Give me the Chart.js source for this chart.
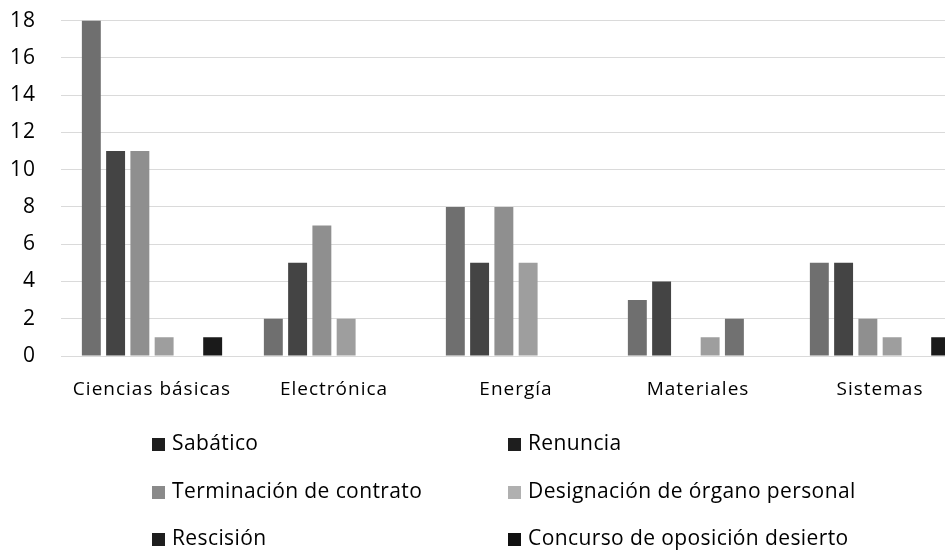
<!DOCTYPE html>
<html><head><meta charset="utf-8">
<script src="https://cdn.jsdelivr.net/npm/chart.js@4.4.0/dist/chart.umd.min.js"></script>
<style>
html,body{margin:0;padding:0;background:#fff;overflow:hidden;width:945px;height:552px}
#wrap{position:relative;width:972px;height:569px;margin-top:-17px}
</style></head>
<body><div id="wrap"><canvas id="c" width="972" height="569"></canvas></div>
<script>
const categories = ['Ciencias básicas', 'Electrónica', 'Energía', 'Materiales', 'Sistemas'];
const seriesNames = ['Sabático', 'Renuncia', 'Terminación de contrato', 'Designación de órgano personal', 'Rescisión', 'Concurso de oposición desierto'];
const sabatico    = [18, 2, 8, 3, 5];
const renuncia    = [11, 5, 5, 4, 5];
const terminacion = [11, 7, 8, 0, 2];
const designacion = [1, 2, 5, 1, 1];
const rescision   = [0, 0, 0, 2, 0];
const concurso    = [1, 0, 0, 0, 1];
const yTicks = [0, 2, 4, 6, 8, 10, 12, 14, 16, 18];

const barColors = ['#6f6f6f', '#444444', '#8f8f8f', '#9e9e9e', '#717171', '#1a1a1a'];
const legendColors = ['#1e1e1e', '#1e1e1e', '#8a8a8a', '#b0b0b0', '#1e1e1e', '#111111'];
const seriesValues = [sabatico, renuncia, terminacion, designacion, rescision, concurso];

const FONT = '"Open Sans", Lato, sans-serif';

const spacingPlugin = {
  id: 'spacing',
  beforeDraw(chart) { chart.ctx.letterSpacing = '1px'; }
};

const legendPlugin = {
  id: 'gridLegend',
  afterDraw(chart) {
    const ctx = chart.ctx;
    const colX = [152, 508];
    const rowY = [461, 509, 556];
    ctx.save();
    ctx.letterSpacing = '0.4px';
    ctx.font = '21px ' + FONT;
    ctx.textBaseline = 'middle';
    ctx.textAlign = 'left';
    chart.data.datasets.forEach((ds, i) => {
      const x = colX[i % 2];
      const y = rowY[Math.floor(i / 2)];
      ctx.fillStyle = legendColors[i];
      ctx.fillRect(x, y - 6, 13, 13);
      ctx.fillStyle = '#000';
      ctx.fillText(ds.label, x + 20, y);
    });
    ctx.restore();
  }
};

new Chart(document.getElementById('c'), {
  type: 'bar',
  data: {
    labels: categories,
    datasets: seriesValues.map((vals, i) => ({
      label: seriesNames[i],
      data: vals,
      backgroundColor: barColors[i],
      borderWidth: 0,
      barPercentage: 0.78,
      categoryPercentage: 0.8
    }))
  },
  options: {
    responsive: false,
    animation: false,
    devicePixelRatio: 1,
    layout: { padding: { top: 0, right: 1, left: 0, bottom: 0 } },
    plugins: { legend: { display: false }, tooltip: { enabled: false } },
    scales: {
      y: {
        min: 0, max: 18,
        afterBuildTicks(scale) { scale.ticks = yTicks.map(v => ({ value: v })); },
        afterFit(scale) { scale.width = 61; },
        ticks: { color: '#000', font: { size: 21, family: FONT }, padding: 25 },
        grid: { color: '#dadada', drawTicks: false },
        border: { display: false }
      },
      x: {
        afterFit(scale) { scale.height = 196; },
        ticks: { color: '#000', font: { size: 19, family: FONT }, padding: 22, maxRotation: 0 },
        grid: { display: false, drawTicks: false },
        border: { display: false }
      }
    }
  },
  plugins: [spacingPlugin, legendPlugin]
});
</script>
</body></html>
